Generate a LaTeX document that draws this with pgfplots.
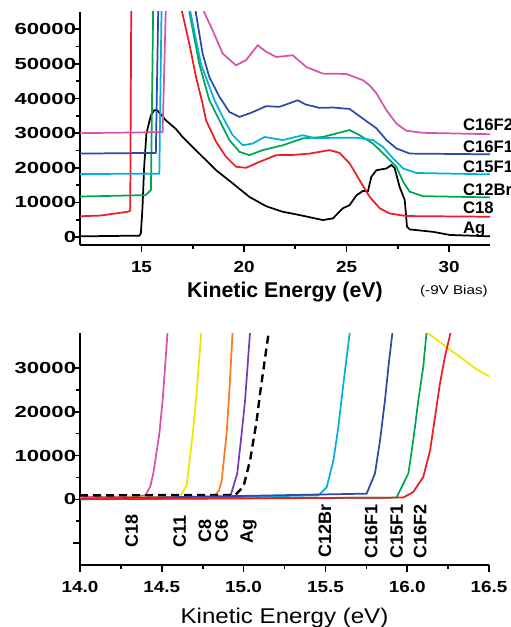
\documentclass[border=0pt]{standalone}
\usepackage{pgfplots}
\pgfplotsset{compat=1.18}
\usepackage{fontspec}
\setmainfont{Liberation Sans}
\newfontfamily\ytf[FakeStretch=1.38]{Liberation Sans}
\newfontfamily\xtf[FakeStretch=1.18]{Liberation Sans}
\newfontfamily\wtf[FakeStretch=1.13]{Liberation Sans}
\newfontfamily\btf[FakeStretch=1.2]{Liberation Sans}

\definecolor{cred}{RGB}{237,28,36}
\definecolor{cgreen}{RGB}{0,166,81}
\definecolor{ccyan}{RGB}{0,178,218}
\definecolor{cblue}{RGB}{46,74,168}
\definecolor{cpink}{RGB}{216,82,170}
\definecolor{cyel}{RGB}{240,228,0}
\definecolor{corange}{RGB}{255,122,30}
\definecolor{cpurple}{RGB}{112,64,176}

\pgfplotsset{
  panel/.style={
    scale only axis,
    axis x line*=bottom, axis y line*=left,
    axis line style={line width=1.5pt},
    tick align=outside,
    major tick length=5.25pt, minor tick length=3pt,
    tick style={black, line width=1.2pt},
    scaled y ticks=false,
    clip mode=individual,
    /pgf/number format/assume math mode=true,
    /pgf/number format/1000 sep={},
    yticklabel style={font=\fontsize{12}{14}\ytf\bfseries, inner sep=0pt, xshift=2.5pt},
    xticklabel style={font=\fontsize{12}{14}\xtf\bfseries, inner sep=0pt, yshift=-7pt},
    every axis plot/.append style={line width=1.3pt},
  },
}
\tikzset{
  lab/.style={font=\fontsize{12.5}{15}\selectfont\bfseries, anchor=base west, inner sep=0pt},
  rlab/.style={font=\fontsize{13.5}{16}\selectfont\bfseries, rotate=90, anchor=center, inner sep=0pt},
}

\begin{document}
\begin{tikzpicture}
% ---------- top panel ----------
\begin{axis}[panel,
  at={(60pt,286.5pt)}, anchor=south west,
  width=307.5pt, height=174.75pt,
  xmin=12, xmax=32, ymin=-2300, ymax=65000,
  xtick={15,20,25,30}, minor x tick num=1,
  ytick={0,10000,20000,30000,40000,50000,60000}, minor y tick num=1,
  xlabel={Kinetic Energy (eV)},
  xlabel style={font=\fontsize{16}{19}\selectfont\bfseries, at={(axis description cs:0.5,0)}, anchor=base, yshift=-39.75pt},
]
% Ag
\addplot[black] coordinates {
(12,200)(14.9,400)(14.97,1100)(15.05,8700)(15.13,20300)(15.24,29900)(15.46,35200)
(15.62,36600)(15.77,36600)(16.19,33700)(16.68,31200)(17.00,28900)(17.82,24100)
(18.64,19300)(19.45,15500)(20.26,11600)(21.08,8900)(21.89,7300)(22.71,6350)
(23.3,5600)(23.85,4900)(24.34,5400)(24.82,8300)(25.15,9200)(25.48,12000)(25.8,13300)
(26.05,13300)(26.21,17400)(26.46,19300)(26.95,19800)(27.19,20800)(27.35,19900)
(27.59,14500)(27.84,10700)(27.95,3000)(28.08,2200)(29.22,1500)(30.04,600)(32,200)};
% C18
\addplot[cred] coordinates {
(12,6000)(13,6200)(14.32,7300)(14.45,7600)(14.5,67000)(16.9,67000)(17.0,64500)
(17.33,55900)(17.66,46200)(17.98,38500)(18.15,33700)(18.64,27500)(19.12,23200)
(19.61,20300)(20.10,20000)(20.75,21700)(21.57,23650)(22.38,23700)(23.2,24100)
(24.17,25100)(24.66,24300)(25.15,21300)(25.64,16400)(26.13,11600)(26.62,8300)
(27.11,6800)(27.92,6060)(32,5860)};
% C12Br
\addplot[cgreen] coordinates {
(12,11700)(15.2,12100)(15.46,13600)(15.57,67000)(17.3,67000)(17.35,64500)
(17.82,50000)(18.31,39500)(18.80,33700)(19.29,28000)(19.78,24600)(20.26,23650)
(20.91,25100)(21.89,26500)(22.87,28500)(23.85,28900)(24.50,29900)(25.15,30900)
(25.64,29400)(26.29,27000)(26.95,23200)(27.43,20300)(27.76,16000)(28.08,13100)
(28.73,11800)(32,11450)};
% C15F1
\addplot[ccyan] coordinates {
(12,18200)(15.87,18300)(15.98,67000)(17.35,67000)(17.4,64500)(17.9,50000)
(18.56,39500)(18.96,34700)(19.45,29400)(19.94,26500)(20.43,27000)(21.0,28900)
(21.89,28000)(22.87,29400)(23.52,28500)(24.50,28700)(25.48,28700)(26.29,28000)
(26.78,26000)(27.27,22700)(27.76,19800)(28.41,18500)(32,18100)};
% C16F1
\addplot[cblue] coordinates {
(12,24100)(15.70,24300)(15.82,67000)(17.6,67000)(17.66,64500)(17.98,53000)
(18.31,46200)(18.80,40500)(19.29,36100)(19.78,34700)(20.26,35700)(20.43,36100)
(21.08,37800)(21.73,37600)(22.62,39500)(23.0,38300)(23.69,37300)(24.34,37400)
(25.15,37000)(25.80,34200)(26.46,31400)(26.95,28000)(27.43,25600)(28.08,24100)
(32,23900)};
% C16F2
\addplot[cpink] coordinates {
(12,30000)(16.03,30300)(16.19,67000)(18.0,67000)(18.06,64900)(18.47,59700)
(18.96,53000)(19.61,49600)(20.10,51100)(20.67,55400)(21.08,53500)(21.57,52000)
(22.38,52500)(23.04,49100)(23.85,47200)(24.99,47100)(25.80,45300)(26.13,43800)
(26.46,41500)(26.95,36600)(27.43,32800)(27.92,30700)(28.73,30100)(32,29700)};
\node[lab] at (axis cs:30.67,30900) {C16F2};
\node[lab] at (axis cs:30.67,24500) {C16F1};
\node[lab] at (axis cs:30.67,18500) {C15F1};
\node[lab] at (axis cs:30.67,12100) {C12Br};
\node[lab] at (axis cs:30.67,6900) {C18};
\node[lab] at (axis cs:30.67,1150) {Ag};
\node[font=\fontsize{9.5}{11}\btf, anchor=base, inner sep=0pt] at (axis cs:30.24,-16730) {(-9V Bias)};
\end{axis}
% ---------- bottom panel ----------
\begin{axis}[panel,
  at={(60pt,46.5pt)}, anchor=south west,
  width=306.75pt, height=174pt,
  xmin=14, xmax=16.5, ymin=-15000, ymax=38000,
  xtick={14,14.5,15,15.5,16,16.5}, minor x tick num=1,
  ytick={-10000,0,10000,20000,30000}, yticklabels={,0,10000,20000,30000},
  minor y tick num=1,
  x tick label style={/pgf/number format/fixed, /pgf/number format/fixed zerofill, /pgf/number format/precision=1},
  xlabel={Kinetic Energy (eV)},
  xlabel style={font=\fontsize{16}{19}\wtf, at={(axis description cs:0.5,0)}, anchor=base, yshift=-43.5pt},
]
% C18
\addplot[cpink] coordinates {(14.0,500)(14.3,600)(14.40,900)(14.43,3000)(14.448,5900)(14.485,15000)(14.505,22600)(14.536,38500)};
% C11
\addplot[cyel] coordinates {(14.0,300)(14.61,500)(14.652,3200)(14.689,15000)(14.709,22600)(14.742,38500)};
\addplot[cyel] coordinates {(16.12,38500)(16.13,37900)(16.26,34200)(16.31,32900)(16.42,29800)(16.5,28100)};
% C8
\addplot[corange] coordinates {(14.0,300)(14.815,600)(14.85,2000)(14.866,4300)(14.896,15000)(14.912,24100)(14.933,38500)};
% C6
\addplot[cpurple] coordinates {(14.0,100)(14.917,400)(14.961,5900)(14.988,15000)(15.009,22600)(15.04,38500)};
% Ag
\addplot[black, line width=1.8pt, dash pattern=on 6pt off 3.75pt] coordinates {(14.0,900)(14.95,1000)(15.0,3000)(15.04,9000)(15.08,18000)(15.10,24000)(15.13,32000)(15.155,38500)};
% C12Br
\addplot[ccyan] coordinates {(14.0,0)(15.457,900)(15.508,2800)(15.549,8900)(15.579,16500)(15.61,26400)(15.65,38500)};
% C16F1
\addplot[cblue] coordinates {(14.0,100)(15.752,1300)(15.803,5900)(15.834,13500)(15.864,22600)(15.885,30200)(15.911,38500)};
% C15F1
\addplot[cgreen] coordinates {(14.0,0)(15.935,400)(15.966,2800)(16.007,5900)(16.037,13500)(16.068,22600)(16.098,30200)(16.119,38500)};
% C16F2
\addplot[cred] coordinates {(14.0,100)(15.976,400)(16.037,1670)(16.098,5100)(16.14,11200)(16.17,18800)(16.2,26400)(16.23,32500)(16.268,38500)};
\node[rlab] at (axis cs:14.316,-7300) {C18};
\node[rlab] at (axis cs:14.61,-7300) {C11};
\node[rlab] at (axis cs:14.764,-7300) {C8};
\node[rlab] at (axis cs:14.866,-7300) {C6};
\node[rlab] at (axis cs:15.03,-7300) {Ag};
\node[rlab] at (axis cs:15.497,-7300) {C12Br};
\node[rlab] at (axis cs:15.78,-7300) {C16F1};
\node[rlab] at (axis cs:15.935,-7300) {C15F1};
\node[rlab] at (axis cs:16.08,-7300) {C16F2};
\end{axis}
\pgfresetboundingbox
\path[use as bounding box] (0,0) rectangle (382.5pt,470.25pt);
\end{tikzpicture}
\end{document}
